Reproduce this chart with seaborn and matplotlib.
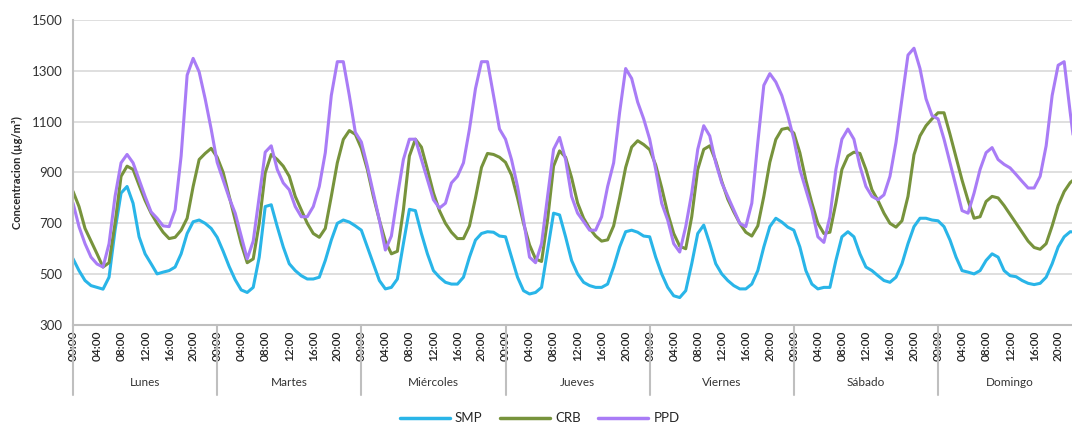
import numpy as np
import pandas as pd
import matplotlib
matplotlib.use("Agg")
import matplotlib.pyplot as plt
import seaborn as sns

# Hourly concentration, one week
days = ["Lunes", "Martes", "Miércoles", "Jueves", "Viernes", "Sábado", "Domingo"]
hour_labels = ["00:00", "04:00", "08:00", "12:00", "16:00", "20:00"]
series_names = ["SMP", "CRB", "PPD"]

smp = [
    561, 514, 475, 455, 448, 441, 488, 673, 819, 845, 779, 647, 580, 541, 501, 508, 514, 528, 580, 660, 706, 713, 700, 680,
    645, 590, 530, 478, 438, 428, 448, 567, 766, 773, 687, 607, 541, 514, 494, 481, 481, 488, 554, 634, 700, 713, 705, 690,
    673, 607, 541, 475, 442, 448, 481, 620, 755, 750, 660, 580, 514, 488, 468, 461, 461, 488, 567, 634, 660, 667, 665, 650,
    647, 567, 488, 435, 422, 428, 448, 594, 740, 733, 647, 554, 501, 468, 455, 448, 448, 461, 528, 607, 667, 673, 665, 650,
    647, 567, 501, 448, 415, 408, 435, 541, 660, 693, 620, 541, 501, 475, 455, 442, 442, 461, 514, 607, 687, 720, 705, 685,
    673, 607, 514, 461, 442, 448, 448, 554, 647, 667, 647, 580, 528, 514, 494, 475, 468, 488, 541, 620, 687, 720, 720, 713,
    710, 687, 634, 567, 514, 508, 501, 514, 554, 580, 567, 514, 494, 490, 475, 464, 459, 464, 488, 541, 607, 647, 667, 665,
]
crb = [
    826, 766, 680, 630, 580, 528, 545, 700, 885, 925, 912, 850, 790, 740, 700, 665, 640, 645, 673, 720, 845, 951, 975, 995,
    960, 900, 806, 713, 620, 545, 560, 700, 899, 971, 951, 925, 885, 806, 753, 700, 660, 645, 680, 806, 938, 1030, 1065, 1050,
    995, 912, 806, 713, 630, 580, 590, 753, 965, 1031, 1000, 912, 820, 750, 700, 665, 640, 640, 690, 800, 920, 975, 971, 960,
    940, 890, 800, 700, 615, 560, 550, 713, 925, 985, 960, 880, 780, 720, 680, 650, 630, 635, 690, 800, 920, 1000, 1025, 1010,
    990, 930, 840, 740, 660, 610, 600, 726, 912, 991, 1005, 945, 865, 795, 745, 700, 665, 650, 690, 806, 940, 1030, 1070, 1075,
    1055, 978, 870, 780, 700, 660, 665, 780, 912, 965, 980, 975, 912, 832, 790, 740, 700, 685, 710, 806, 970, 1044, 1084, 1111,
    1135, 1135, 1050, 960, 870, 790, 720, 726, 786, 806, 800, 770, 735, 700, 665, 630, 605, 598, 620, 690, 770, 825, 860, 880,
]
ppd = [
    780, 687, 620, 567, 540, 528, 620, 806, 938, 971, 938, 872, 806, 745, 720, 690, 687, 753, 965, 1283, 1349, 1296, 1190, 1071,
    940, 870, 800, 740, 650, 560, 630, 806, 980, 1005, 912, 859, 832, 766, 726, 726, 766, 845, 978, 1203, 1336, 1336, 1203, 1058,
    1020, 925, 819, 713, 595, 650, 806, 951, 1031, 1031, 951, 872, 793, 760, 779, 859, 885, 938, 1071, 1230, 1336, 1336, 1203, 1071,
    1031, 951, 845, 713, 567, 545, 620, 806, 991, 1038, 951, 806, 740, 707, 673, 673, 726, 845, 938, 1137, 1309, 1270, 1177, 1111,
    1031, 912, 779, 713, 620, 587, 687, 819, 991, 1084, 1044, 938, 859, 806, 753, 700, 687, 779, 1018, 1243, 1289, 1256, 1203, 1124,
    1031, 912, 832, 753, 647, 625, 726, 912, 1031, 1071, 1031, 925, 845, 806, 793, 812, 885, 1018, 1190, 1362, 1389, 1309, 1190, 1124,
    1111, 1031, 938, 845, 750, 740, 819, 912, 978, 998, 951, 932, 918, 892, 865, 839, 839, 885, 1005, 1203, 1322, 1336, 1137, 950,
]

palette = {"SMP": "#29B5E8", "CRB": "#77933C", "PPD": "#A97CF6"}

sns.set_style("white")
plt.rcParams["font.family"] = ["Lato", "DejaVu Sans"]

hours = np.arange(len(smp))
df = pd.DataFrame({
    "hora": np.tile(hours, 3),
    "valor": smp + crb + ppd,
    "serie": np.repeat(series_names, len(smp)),
})

fig = plt.figure(figsize=(10.72, 4.32), dpi=100)
ax = fig.add_axes([73 / 1072, 1 - 325 / 432, 1 - 73 / 1072, 305 / 432])

sns.lineplot(data=df, x="hora", y="valor", hue="serie", hue_order=series_names,
             palette=palette, linewidth=2.2, ax=ax)

# axes
ax.set_ylim(300, 1500)
ax.set_yticks(range(300, 1501, 200))
ax.set_xlim(0, 999 / 144.17 * 24)
ax.set_xticks(range(0, 168, 4))
ax.set_xticklabels(hour_labels * len(days), rotation=90, fontsize=8.5,
                   fontweight="semibold", color="#222222")
ax.tick_params(axis="x", length=0, pad=4)
ax.tick_params(axis="y", length=4, color="#BFBFBF", labelsize=9.5, labelcolor="#333333")
ax.set_xlabel("")
ax.set_ylabel("Concentracion (µg/m³)", fontsize=8, fontweight="bold", labelpad=6)
ax.yaxis.grid(True, color="#D9D9D9", linewidth=1.2)
ax.set_axisbelow(True)
for side in ["top", "right"]:
    ax.spines[side].set_visible(False)
for side in ["left", "bottom"]:
    ax.spines[side].set_color("#BFBFBF")
    ax.spines[side].set_linewidth(1.5)

# day groups below the hour labels
trans = ax.get_xaxis_transform()
for d, day in enumerate(days):
    ax.plot([24 * d, 24 * d], [0, -0.23], transform=trans, clip_on=False,
            color="#BFBFBF", linewidth=1.5)
    ax.text(24 * d + 12, -0.187, day, transform=trans, ha="center", va="center",
            fontsize=8.5, color="#333333")

sns.move_legend(ax, "lower center", bbox_to_anchor=(0.467, -0.365), ncol=3,
                title=None, frameon=False, fontsize=9.5, handlelength=3.8,
                handletextpad=0.4, columnspacing=1.3)
for line in ax.get_legend().get_lines():
    line.set_linewidth(2.5)

fig.savefig("out.png", dpi=100)
